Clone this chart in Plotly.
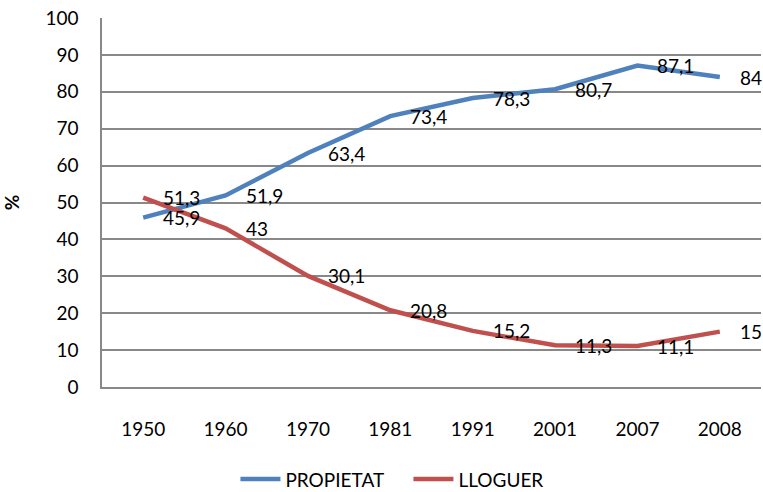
import plotly.graph_objects as go

years = ["1950", "1960", "1970", "1981", "1991", "2001", "2007", "2008"]
propietat = [45.9, 51.9, 63.4, 73.4, 78.3, 80.7, 87.1, 84]
lloguer = [51.3, 43, 30.1, 20.8, 15.2, 11.3, 11.1, 15]
y_ticks = [0, 10, 20, 30, 40, 50, 60, 70, 80, 90, 100]

BLUE = "#4F81BD"
RED = "#C0504D"
FONT = "Lato"
FS = 19


def fmt(v):
    s = ("%g" % v)
    return s.replace(".", ",")


fig = go.Figure()
fig.add_trace(go.Scatter(x=years, y=propietat, mode="lines", name="PROPIETAT",
                         line=dict(color=BLUE, width=4.5)))
fig.add_trace(go.Scatter(x=years, y=lloguer, mode="lines", name="LLOGUER",
                         line=dict(color=RED, width=4.5)))

annotations = []
for series in (propietat, lloguer):
    for i, v in enumerate(series):
        annotations.append(dict(x=i, y=v, xref="x", yref="y", text=fmt(v),
                                showarrow=False, xanchor="left", yanchor="middle",
                                xshift=18, font=dict(family=FONT, size=FS, color="#000")))

fig.update_layout(
    width=763, height=492,
    margin=dict(l=102, r=2, t=18, b=105, autoexpand=False),
    paper_bgcolor="white", plot_bgcolor="white",
    font=dict(family=FONT, size=FS, color="#000"),
    showlegend=True,
    legend=dict(orientation="h", x=0.465, xanchor="center", y=-0.25, yanchor="middle",
                font=dict(family=FONT, size=FS), itemwidth=40, tracegroupgap=0,
                entrywidth=118, entrywidthmode="pixels"),
    annotations=annotations,
    xaxis=dict(type="category", categoryorder="array", categoryarray=years,
               showgrid=False, showline=True, linecolor="#888", linewidth=1.5,
               ticks="", ticklabelstandoff=24, tickfont=dict(family=FONT, size=FS),
               range=[-0.5, 7.5], fixedrange=True, automargin=False),
    yaxis=dict(range=[0, 100], tickvals=y_ticks, showgrid=True, gridcolor="#888",
               gridwidth=1.5, showline=True, linecolor="#888", linewidth=1.5,
               zeroline=False, ticks="", ticklabelstandoff=18, automargin=False,
               fixedrange=True, tickfont=dict(family=FONT, size=FS),
               title=dict(text="<b>%</b>", standoff=22, font=dict(family=FONT, size=FS))),
)

fig.write_html("out.html", config={"displayModeBar": False},
               post_script="document.body.style.margin='0';document.body.style.overflow='hidden';")
